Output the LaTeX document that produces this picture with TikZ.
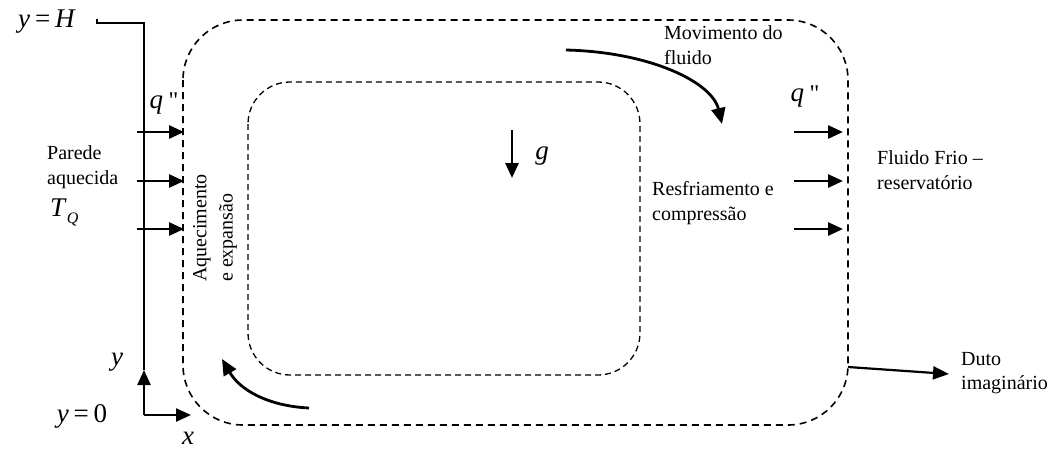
\documentclass[tikz,border=0pt]{standalone}
\usepackage{fontspec}
\setmainfont{Liberation Serif}
\newfontfamily\qfont{Liberation Serif}[Ligatures=TeXOff]
\usetikzlibrary{arrows.meta}
\begin{document}
\begin{tikzpicture}[x=1pt,y=-1pt,
  lbl/.style={font=\fontsize{20}{24.5}\selectfont, inner sep=0pt, align=left},
  mth/.style={font=\fontsize{27}{30}\selectfont, inner sep=0pt},
  flux/.style={line width=2.8pt, -{Triangle[length=15pt,width=13pt]}},
  flow/.style={line width=2.8pt, -{Triangle[length=16pt,width=14pt]}},
  wall/.style={line width=2.2pt},
  axis/.style={line width=2.4pt, -{Triangle[length=15pt,width=13pt]}},
  outer/.style={line width=1.6pt, dash pattern=on 7pt off 5pt, rounded corners=60pt},
  inner/.style={line width=1.3pt, dash pattern=on 6pt off 4pt, rounded corners=42pt}]
\useasboundingbox (0,0) rectangle (1055,451);

% control volumes
\draw[outer] (183,20) rectangle (848,425);
\draw[inner] (248,82) rectangle (640,375);

% wall and axes
\coordinate (o) at (144,415);
\coordinate (ytip) at (144,370);
\coordinate (xtip) at (191,415);
\coordinate (wtop) at (144,23);
\coordinate (hook) at (97,19);
\draw[wall] (hook) -- (97,23) -- (wtop) -- (ytip);
\draw[axis] (o) -- (ytip);
\draw[axis] (o) -- (xtip);

\node[mth] (yH) at (47,22) {\textit{y}\hspace{0.18em}=\hspace{0.18em}\textit{H}};
\node[mth] (y0) at (82,416) {\textit{y}\hspace{0.18em}=\hspace{0.18em}0};
\node[mth] (ylab) at (117,362) {\textit{y}};
\node[mth] (xlab) at (188,438) {\textit{x}};

% left heat flux
\foreach \yy/\nm in {132/a,181/b,229/c}{
  \coordinate (ls\nm) at (137,\yy);
  \coordinate (le\nm) at (184,\yy);
  \draw[flux] (ls\nm) -- (le\nm);
}
\node[mth] (qL) at (164,104) {\textit{q}\hspace{0.2em}{\qfont\fontsize{24}{24}\selectfont "}};
\node[lbl, anchor=west] (parede) at (47,167) {Parede\\aquecida};
\node[mth, anchor=west] (TQ) at (50,212) {\textit{T}\raisebox{-7pt}{\fontsize{16}{16}\selectfont\textit{Q}}};

% right heat flux
\foreach \yy/\nm in {132/a,181/b,229/c}{
  \coordinate (rs\nm) at (794,\yy);
  \coordinate (re\nm) at (843,\yy);
  \draw[flux] (rs\nm) -- (re\nm);
}
\node[mth] (qR) at (805,97) {\textit{q}\hspace{0.2em}{\qfont\fontsize{24}{24}\selectfont "}};
\node[lbl, anchor=west] (frio) at (877,170) {Fluido Frio –\\reservatório};

% rotated labels
\node[lbl, anchor=west, rotate=90] (aq) at (202,282) {Aquecimento};
\node[lbl, anchor=west, rotate=90] (ex) at (228,282) {e expansão};

% gravity
\coordinate (gs) at (512,130);
\coordinate (ge) at (512,178);
\draw[flux] (gs) -- (ge);
\node[mth] (glab) at (542,156) {\textit{g}};

% fluid movement
\node[lbl, anchor=west] (mov) at (664,45) {Movimento do\\fluido};
\coordinate (ms) at (566,50);
\coordinate (me) at (722,124);
\draw[flow] (ms) .. controls (650,52) and (712,82) .. (me);

\node[lbl, anchor=west] (resf) at (652,203) {Resfriamento e\\compressão};

% bottom-left movement
\coordinate (bs) at (309,408);
\coordinate (be) at (222,359);
\draw[flow] (bs) .. controls (268,406) and (240,390) .. (be);

% imaginary duct
\coordinate (ds) at (848,367);
\coordinate (de) at (949,374);
\draw[line width=2.2pt, -{Triangle[length=16pt,width=13pt]}] (ds) -- (de);
\node[lbl, anchor=west] (duto) at (961,373) {Duto\\imaginário};
\end{tikzpicture}
\end{document}
